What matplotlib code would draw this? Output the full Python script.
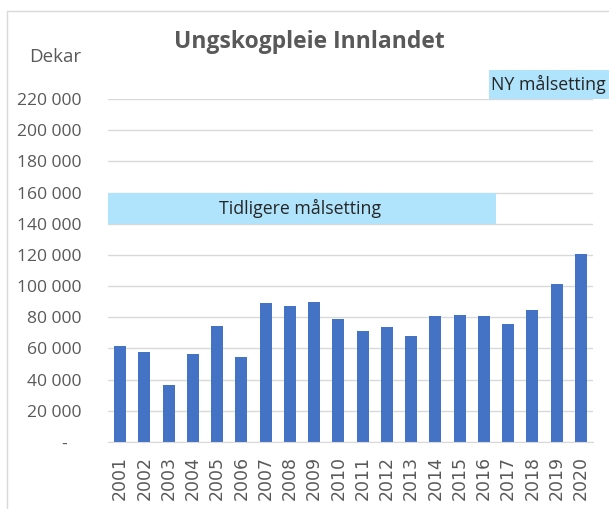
import matplotlib.pyplot as plt
import matplotlib.patches as mpatches
from matplotlib.ticker import FuncFormatter

years = [str(y) for y in range(2001, 2021)]
dekar = [61500, 57500, 36300, 56400, 74400, 54300, 89300, 87200, 89700, 79000,
         71200, 73900, 68200, 80600, 81600, 80600, 75800, 84600, 101100, 120300]
yticks = list(range(0, 220001, 20000))
old_goal = (140000, 160000)
old_goal_label = "Tidligere målsetting"
new_goal_label = "NY målsetting"

GRAY = '#595959'
GRID = '#d9d9d9'
BLUE = '#4472c4'
LIGHTBLUE = '#b0e4fc'

fig = plt.figure(figsize=(6.09, 5.09), dpi=100)
ax = fig.add_axes([108 / 609, 67 / 509, 485 / 609, 343 / 509])

x = list(range(len(years)))
ax.bar(x, dekar, width=0.5, color=BLUE, zorder=3)

ax.set_xlim(-0.5, len(years) - 0.5)
ax.set_ylim(0, 220000)
ax.set_yticks(yticks)
ax.yaxis.set_major_formatter(FuncFormatter(
    lambda v, p: "-   " if v == 0 else f"{int(v):,}".replace(",", " ")))
ax.set_xticks(x)
ax.set_xticklabels(years, rotation=90, fontsize=12.5, color=GRAY, family='DejaVu Sans')
for lab in ax.get_yticklabels():
    lab.set_fontsize(12.6)
    lab.set_color(GRAY)
    lab.set_family('Open Sans')

ax.tick_params(axis='both', length=0)
ax.tick_params(axis='y', pad=19)
ax.tick_params(axis='x', pad=10)
ax.grid(axis='y', color=GRID, linewidth=1, zorder=0)
for s in ['top', 'right', 'left']:
    ax.spines[s].set_visible(False)
ax.spines['bottom'].set_color(GRID)
ax.spines['bottom'].set_zorder(4)

# old goal band
ax.add_patch(mpatches.Rectangle((-0.5, old_goal[0]), 16, old_goal[1] - old_goal[0],
                                facecolor=LIGHTBLUE, edgecolor='none', zorder=2))
ax.text(7.4, (old_goal[0] + old_goal[1]) / 2, old_goal_label, ha='center', va='center',
        fontsize=12.8, color='#262626', family='Open Sans', zorder=5)

# new goal label
ax.add_patch(mpatches.Rectangle((15.2, 220000), 5.2, 18500, facecolor=LIGHTBLUE,
                                edgecolor='none', clip_on=False, zorder=2))
ax.text(15.3, 229000, new_goal_label, ha='left', va='center', fontsize=12.8,
        color='#262626', family='Open Sans', clip_on=False, zorder=5)

fig.text(309 / 609, 1 - 42 / 509, "Ungskogpleie Innlandet", ha='center', va='center',
         fontsize=16.5, fontweight='bold', color=GRAY, family='Open Sans')
fig.text(55 / 609, 1 - 57 / 509, "Dekar", ha='center', va='center',
         fontsize=13.5, color=GRAY, family='Open Sans')

fig.add_artist(mpatches.Rectangle((7 / 609, -0.05), 1.0, 1.05 - 11 / 509,
                                  transform=fig.transFigure, fill=False,
                                  edgecolor=GRID, linewidth=1))

fig.savefig("out.png", dpi=100)
